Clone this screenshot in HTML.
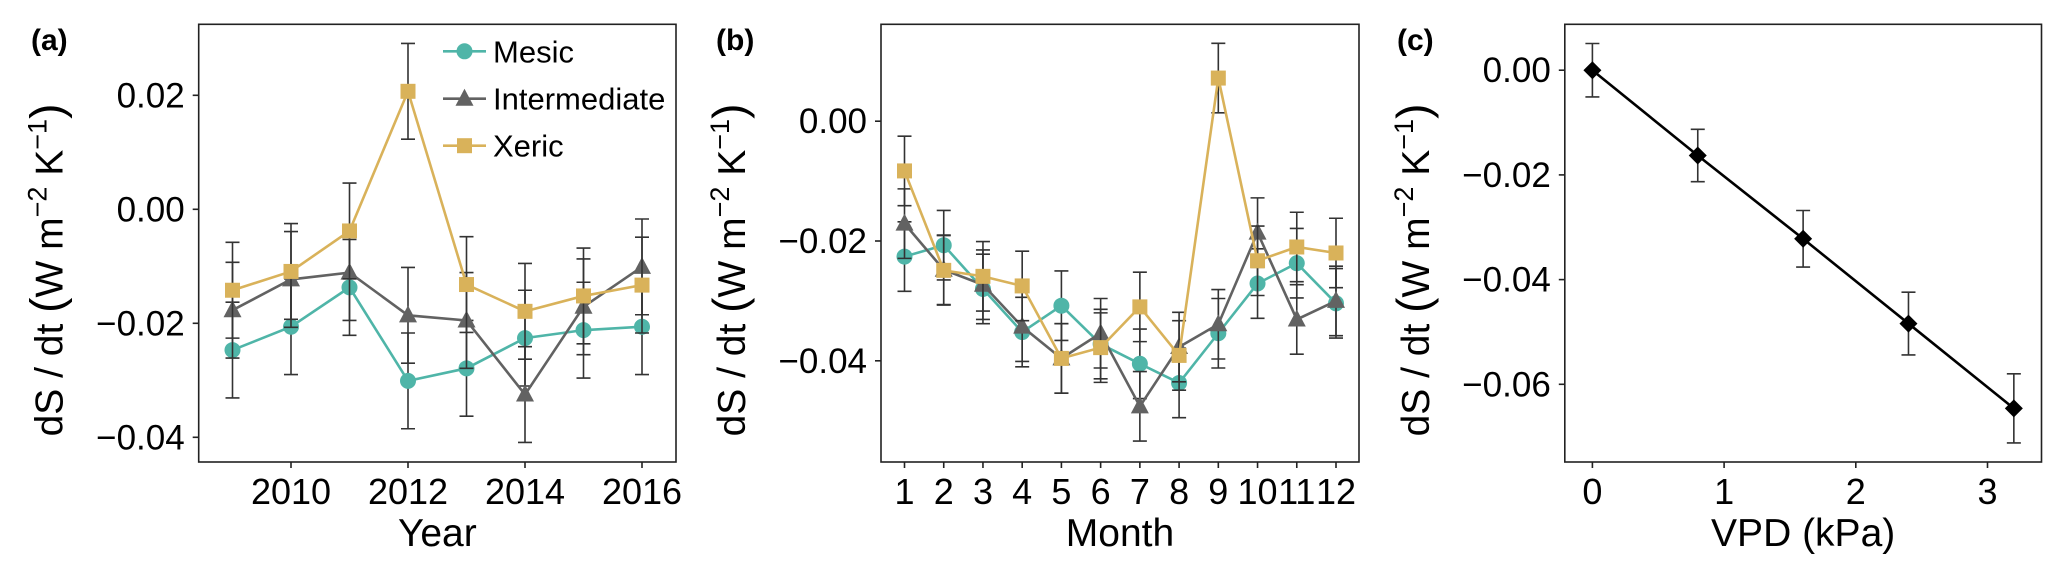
<!DOCTYPE html>
<html><head><meta charset="utf-8"><style>
html,body{margin:0;padding:0;background:#fff;}
svg{display:block;font-family:"Liberation Sans",Arial,sans-serif;}
</style></head><body>
<svg id="fig" width="2067" height="580" viewBox="0 0 2067 580" xmlns="http://www.w3.org/2000/svg"></svg>
<script>
// Panel (a) data
const years = [2009,2010,2011,2012,2013,2014,2015,2016];
const mesicYear = [-0.0247,-0.0206,-0.0137,-0.0301,-0.0279,-0.0226,-0.0212,-0.0206];
const interYear = [-0.0177,-0.0123,-0.0111,-0.0186,-0.0195,-0.0325,-0.0171,-0.0101];
const xericYear = [-0.0142,-0.0109,-0.0038,0.0207,-0.0132,-0.0179,-0.0152,-0.0133];
const errYear = 0.0084;
const yearTicks = [2010,2012,2014,2016];
const yTicksA = [0.02,0.00,-0.02,-0.04];
// Panel (b) data
const months = [1,2,3,4,5,6,7,8,9,10,11,12];
const mesicMonth = [-0.0226,-0.0207,-0.028,-0.0352,-0.0308,-0.0372,-0.0405,-0.0437,-0.0354,-0.0271,-0.0237,-0.0304];
const interMonth = [-0.0171,-0.0248,-0.0273,-0.0343,-0.0396,-0.0354,-0.0476,-0.0377,-0.0339,-0.0186,-0.0331,-0.030];
const xericMonth = [-0.0083,-0.0249,-0.0259,-0.0275,-0.0396,-0.0378,-0.031,-0.0391,0.0072,-0.0233,-0.021,-0.022];
const errMonth = 0.0058;
const yTicksB = [0.00,-0.02,-0.04];
// Panel (c) data
const vpd = [0,0.8,1.6,2.4,3.2];
const vpdVal = [0,-0.0163,-0.0322,-0.0484,-0.0646];
const vpdErr = [0.0051,0.0050,0.0054,0.0060,0.0066];
const vpdTicks = [0,1,2,3];
const yTicksC = [0.00,-0.02,-0.04,-0.06];

const NS="http://www.w3.org/2000/svg";
const svg=document.getElementById('fig');
function mk(tag,attrs,parent){const e=document.createElementNS(NS,tag);for(const k in attrs)e.setAttribute(k,attrs[k]);(parent||svg).appendChild(e);return e;}
function lin(d0,d1,r0,r1){return v=>r0+(v-d0)/(d1-d0)*(r1-r0);}
const TEAL="#4fb5a8",GRAY="#626262",GOLD="#d9b25a",EB="#333";

function panel(o){
  const g=mk('g',{});
  
  
  const t=mk('text',{x:o.labx,y:50,'font-size':30,'font-weight':'bold'},g);
  t.textContent=o.label;
  
  
  const box=mk('rect',{x:o.L,y:o.T,width:o.R-o.L,height:o.B-o.T,fill:'none',stroke:'#222','stroke-width':1.6},g);
  
  
  o.yt.forEach(v=>{const y=o.ys(v);
    const tk=mk('line',{x1:o.L-6,x2:o.L,y1:y,y2:y,stroke:'#222','stroke-width':1.6},g);
    
    
    const tl=mk('text',{x:o.L-14,y:y+12,'font-size':35,'text-anchor':'end'},g);
    tl.textContent=(v<0?'\u2212':'')+Math.abs(v).toFixed(2);
    
    
  });
  o.xt.forEach(v=>{const x=o.xs(v);
    const tk=mk('line',{x1:x,x2:x,y1:o.B,y2:o.B+6,stroke:'#222','stroke-width':1.6},g);
    
    
    const tl=mk('text',{x:x,y:504,'font-size':36,'text-anchor':'middle'},g);
    tl.textContent=String(v);
    
    
  });
  const xt=mk('text',{x:(o.L+o.R)/2,y:546,'font-size':39,'text-anchor':'middle'},g);
  xt.textContent=o.xtitle;
  
  
  const yt=mk('text',{x:0,y:0,'font-size':39,'text-anchor':'middle',transform:`translate(${o.L-136},270) rotate(-90)`},g);
  yt.innerHTML='dS / dt <tspan font-size="46">(</tspan>W m<tspan dy="-16" font-size="27">\u22122</tspan><tspan dy="16"> K</tspan><tspan dy="-16" font-size="27">\u22121</tspan><tspan dy="16" font-size="46">)</tspan>';
  
  
  return g;
}
function ebar(g,x,y0,y1){
  const e=mk('path',{d:`M${x-7},${y0}H${x+7}M${x},${y0}V${y1}M${x-7},${y1}H${x+7}`,stroke:EB,'stroke-width':1.6,fill:'none'},g);
  
  
}
function marker(g,shape,x,y,color){
  let m;
  if(shape==='circle') m=mk('circle',{cx:x,cy:y,r:8,fill:color},g);
  else if(shape==='square') m=mk('rect',{x:x-7.5,y:y-7.5,width:15,height:15,fill:color},g);
  else if(shape==='tri') m=mk('path',{d:`M${x},${y-10}L${x+9},${y+7}L${x-9},${y+7}Z`,fill:color},g);
  else m=mk('path',{d:`M${x},${y-9}L${x+9},${y}L${x},${y+9}L${x-9},${y}Z`,fill:color},g);
  
  
}
function series(g,xsArr,vals,err,xs,ys,color,shape,name){
  const sg=mk('g',{},g);
  
  
  xsArr.forEach((xv,i)=>{const e=Array.isArray(err)?err[i]:err;ebar(sg,xs(xv),ys(vals[i]+e),ys(vals[i]-e));});
  const p=mk('polyline',{points:xsArr.map((xv,i)=>xs(xv)+','+ys(vals[i])).join(' '),fill:'none',stroke:color,'stroke-width':2.6},sg);
  
  
  xsArr.forEach((xv,i)=>marker(sg,shape,xs(xv),ys(vals[i]),color));
}

// Panel a
{const L=198.7,R=676,T=24.3,B=462;
 const xs=lin(2010,2016,291,642), ys=lin(0,0.02,209.3,95.3);
 const g=panel({name:'panel-a',label:'(a)',labx:31,L,R,T,B,xs,ys,yt:yTicksA,xt:yearTicks,xtitle:'Year'});
 series(g,years,mesicYear,errYear,xs,ys,TEAL,'circle','mesic-series');
 series(g,years,interYear,errYear,xs,ys,GRAY,'tri','intermediate-series');
 series(g,years,xericYear,errYear,xs,ys,GOLD,'square','xeric-series');
 const lg=mk('g',{},g);
 
 
 [['Mesic',TEAL,'circle',51.3],['Intermediate',GRAY,'tri',98.7],['Xeric',GOLD,'square',145.7]].forEach(([n,c,s,y])=>{
   const eg=mk('g',{},lg);
   
   
   mk('line',{x1:443,x2:486,y1:y,y2:y,stroke:c,'stroke-width':2.6},eg);
   marker(eg,s,464.5,y,c);
   const t=mk('text',{x:493,y:y+11,'font-size':31},eg);t.textContent=n;
 });
}
// Panel b
{const L=881,R=1359,T=24.3,B=462;
 const xs=lin(1,12,904.5,1336), ys=lin(0,-0.02,121.2,241);
 const g=panel({name:'panel-b',label:'(b)',labx:716,L,R,T,B,xs,ys,yt:yTicksB,xt:months,xtitle:'Month'});
 series(g,months,mesicMonth,errMonth,xs,ys,TEAL,'circle','mesic-series');
 series(g,months,interMonth,errMonth,xs,ys,GRAY,'tri','intermediate-series');
 series(g,months,xericMonth,errMonth,xs,ys,GOLD,'square','xeric-series');
}
// Panel c
{const L=1564.8,R=2041.5,T=24.3,B=462;
 const xs=lin(0,1,1592.4,1724.1), ys=lin(0,-0.02,70.2,174.9);
 const g=panel({name:'panel-c',label:'(c)',labx:1397,L,R,T,B,xs,ys,yt:yTicksC,xt:vpdTicks,xtitle:'VPD (kPa)'});
 series(g,vpd,vpdVal,vpdErr,xs,ys,'#000','diamond','vpd-series');
}
</script>
</body></html>
